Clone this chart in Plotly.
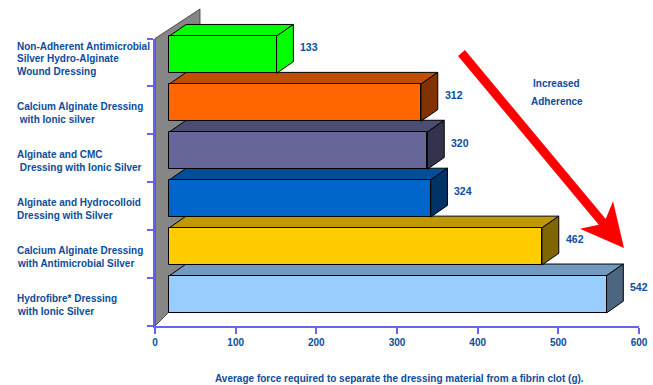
import math
import plotly.graph_objects as go

# ---- data -------------------------------------------------------------
categories = [
    "Non-Adherent Antimicrobial<br>Silver Hydro-Alginate<br>Wound Dressing",
    "Calcium Alginate Dressing<br>\u00a0with Ionic silver",
    "Alginate and CMC<br>\u00a0Dressing with Ionic Silver",
    "Alginate and Hydrocolloid<br>Dressing with Silver",
    "Calcium Alginate Dressing<br>with Antimicrobial Silver",
    "Hydrofibre* Dressing<br>with Ionic Silver",
]
force_g = [133, 312, 320, 324, 462, 542]
x_ticks = [0, 100, 200, 300, 400, 500, 600]
x_title = "Average force required to separate the dressing material from a fibrin clot (g)."
note_lines = ["Increased", "Adherence"]

# ---- styles -----------------------------------------------------------
front_colors = ["#00FF00", "#FF6600", "#666699", "#0066CC", "#FFCC00", "#99CCFF"]
top_colors = ["#00FF00", "#C04D00", "#4D4D73", "#004D99", "#BF9900", "#7399BF"]
side_colors = ["#00FF00", "#803300", "#33334D", "#003366", "#806600", "#4D6680"]
TEXT = "#0D4C9C"
AXIS = "#6464F0"
WALL = "#868686"
FONT = "Liberation Sans, Arial, sans-serif"

# ---- layout geometry (pixels) -------------------------------------------
W, H = 653, 385
AX_L, AX_R = 155, 639        # columns of x = 0 and x = XMAX
AX_T, AX_B = 38.5, 326       # top and bottom of the category bands
XMAX = 600
n = len(categories)
kx = (AX_R - AX_L) / XMAX
band = (AX_B - AX_T) / n

M = dict(l=140, r=4, t=2, b=50, autoexpand=False)
pw = W - M["l"] - M["r"]
ph = H - M["t"] - M["b"]
plot_bottom = H - M["b"]

FRONT_SHIFT = (14.3, 7.7)    # projection of the bar front faces
DEPTH = (16.8, 11.7)         # bar depth (right, up)
BAR_H = 37.2
LABEL_LINE = 12.5            # line pitch of the category labels
LABEL_LAST = 9.0             # last label line below the band centre


def dx(px):
    return px / kx


def dy(px):
    return px / band


def data_x(px):
    return (px - AX_L) / kx


def data_y(py):
    return -0.5 + (AX_B - py) / band


def paper_x(px):
    return (px - M["l"]) / pw


def paper_y(py):
    return (plot_bottom - py) / ph


x_range = [data_x(M["l"]), data_x(W - M["r"])]
y_range = [data_y(plot_bottom), data_y(M["t"])]

fig = go.Figure()
shapes = []

# back wall of the 3D frame
wall_px = [(155, 326), (155, 38.5), (200, 9), (200, 281)]
wall_path = "M " + " L ".join(f"{data_x(a):.4f},{data_y(b):.4f}" for a, b in wall_px) + " Z"
shapes.append(dict(type="path", path=wall_path, xref="x", yref="y", layer="below",
                   fillcolor=WALL, line=dict(color="#333333", width=0.8)))

base = dx(FRONT_SHIFT[0])
w = dy(BAR_H)
ddx, ddy = dx(DEPTH[0]), dy(DEPTH[1])
ypos = [n - 1 - i + dy(FRONT_SHIFT[1]) for i in range(n)]

# top and side faces, bottom bar first
for i in reversed(range(n)):
    v = force_g[i]
    x0, x1 = base, base + v
    yt, yb = ypos[i] + w / 2, ypos[i] - w / 2
    top = (f"M {x0},{yt} L {x1},{yt} L {x1 + ddx},{yt + ddy} "
           f"L {x0 + ddx},{yt + ddy} Z")
    side = (f"M {x1},{yt} L {x1 + ddx},{yt + ddy} L {x1 + ddx},{yb + ddy} "
            f"L {x1},{yb} Z")
    shapes.append(dict(type="path", path=top, xref="x", yref="y", layer="below",
                       fillcolor=top_colors[i], line=dict(color="black", width=1)))
    shapes.append(dict(type="path", path=side, xref="x", yref="y", layer="below",
                       fillcolor=side_colors[i], line=dict(color="black", width=1)))

# front faces
fig.add_trace(go.Bar(
    x=force_g, y=ypos, base=base, orientation="h", width=w,
    marker=dict(color=front_colors, line=dict(color="black", width=1)),
    hoverinfo="skip", showlegend=False,
))

# frame axes subplot
fig.add_trace(go.Scatter(x=[], y=[], xaxis="x2", yaxis="y2",
                         showlegend=False, hoverinfo="skip"))

annotations = []
for i, (cat, v) in enumerate(zip(categories, force_g)):
    lines = cat.split("<br>")
    for j, line in enumerate(lines):
        shift = LABEL_LAST + (len(lines) - 1 - j) * -LABEL_LINE
        annotations.append(dict(
            text=line, xref="paper", yref="y", x=paper_x(15), y=n - 1 - i,
            xanchor="left", yanchor="middle", align="left", yshift=-shift,
            showarrow=False, font=dict(family=FONT, size=10, color=TEXT, weight="bold"),
        ))
    annotations.append(dict(
        text=str(v), xref="x", yref="y", x=base + v + ddx, y=n - 1 - i,
        xanchor="left", yanchor="middle", xshift=5, yshift=15.4,
        showarrow=False, font=dict(family=FONT, size=10.5, color=TEXT, weight="bold"),
    ))

annotations.append(dict(
    text=x_title, xref="paper", yref="paper", x=paper_x(399.5), y=paper_y(379),
    xanchor="center", yanchor="middle", showarrow=False,
    font=dict(family=FONT, size=10, color=TEXT, weight="bold"),
))
for line, py in zip(note_lines, [83.3, 101.7]):
    annotations.append(dict(
        text=line, xref="paper", yref="paper", x=paper_x(556.7), y=paper_y(py),
        xanchor="center", yanchor="middle", showarrow=False,
        font=dict(family=FONT, size=10, color=TEXT, weight="bold"),
    ))

# red trend arrow
sx, sy = 461.5, 53.0
tx, ty = 624.0, 248.0
L = math.hypot(tx - sx, ty - sy)
ux, uy = (tx - sx) / L, (ty - sy) / L
nx, ny = uy, -ux
half_shaft, half_head = 4.5, 21.6
wing_t, neck_t = L - 43, L - 34


def pt(t, s):
    return (sx + ux * t + nx * s, sy + uy * t + ny * s)


arrow_px = [pt(0, -half_shaft), pt(neck_t, -half_shaft), pt(wing_t, -half_head),
            pt(L, 0), pt(wing_t, half_head), pt(neck_t, half_shaft), pt(0, half_shaft)]
arrow_path = "M " + " L ".join(f"{paper_x(a):.5f},{paper_y(b):.5f}" for a, b in arrow_px) + " Z"
shapes.append(dict(type="path", path=arrow_path, xref="paper", yref="paper",
                   layer="above", fillcolor="#FF0000", line=dict(width=0)))

fig.update_layout(
    width=W, height=H, margin=M,
    paper_bgcolor="white", plot_bgcolor="rgba(0,0,0,0)",
    font=dict(family=FONT, color=TEXT),
    xaxis=dict(range=x_range, visible=False, fixedrange=True),
    yaxis=dict(range=y_range, visible=False, fixedrange=True),
    xaxis2=dict(
        domain=[paper_x(AX_L), paper_x(AX_R)], anchor="y2", range=[0, XMAX],
        tickvals=x_ticks, ticktext=[str(t) for t in x_ticks],
        ticks="outside", ticklen=6, tickwidth=1.5, tickcolor=AXIS,
        showline=True, linecolor=AXIS, linewidth=1.5,
        showgrid=False, zeroline=False,
        tickfont=dict(family=FONT, size=10, color=TEXT, weight="bold"),
    ),
    yaxis2=dict(
        domain=[paper_y(AX_B), paper_y(AX_T)], anchor="x2", range=[-0.5, n - 0.5],
        tickvals=[k - 0.5 for k in range(n + 1)], showticklabels=False,
        ticks="outside", ticklen=6, tickwidth=1.5, tickcolor=AXIS,
        showline=True, linecolor=AXIS, linewidth=1.5,
        showgrid=False, zeroline=False,
    ),
    shapes=shapes, annotations=annotations,
    bargap=0,
)

fig.write_html("out.html")
